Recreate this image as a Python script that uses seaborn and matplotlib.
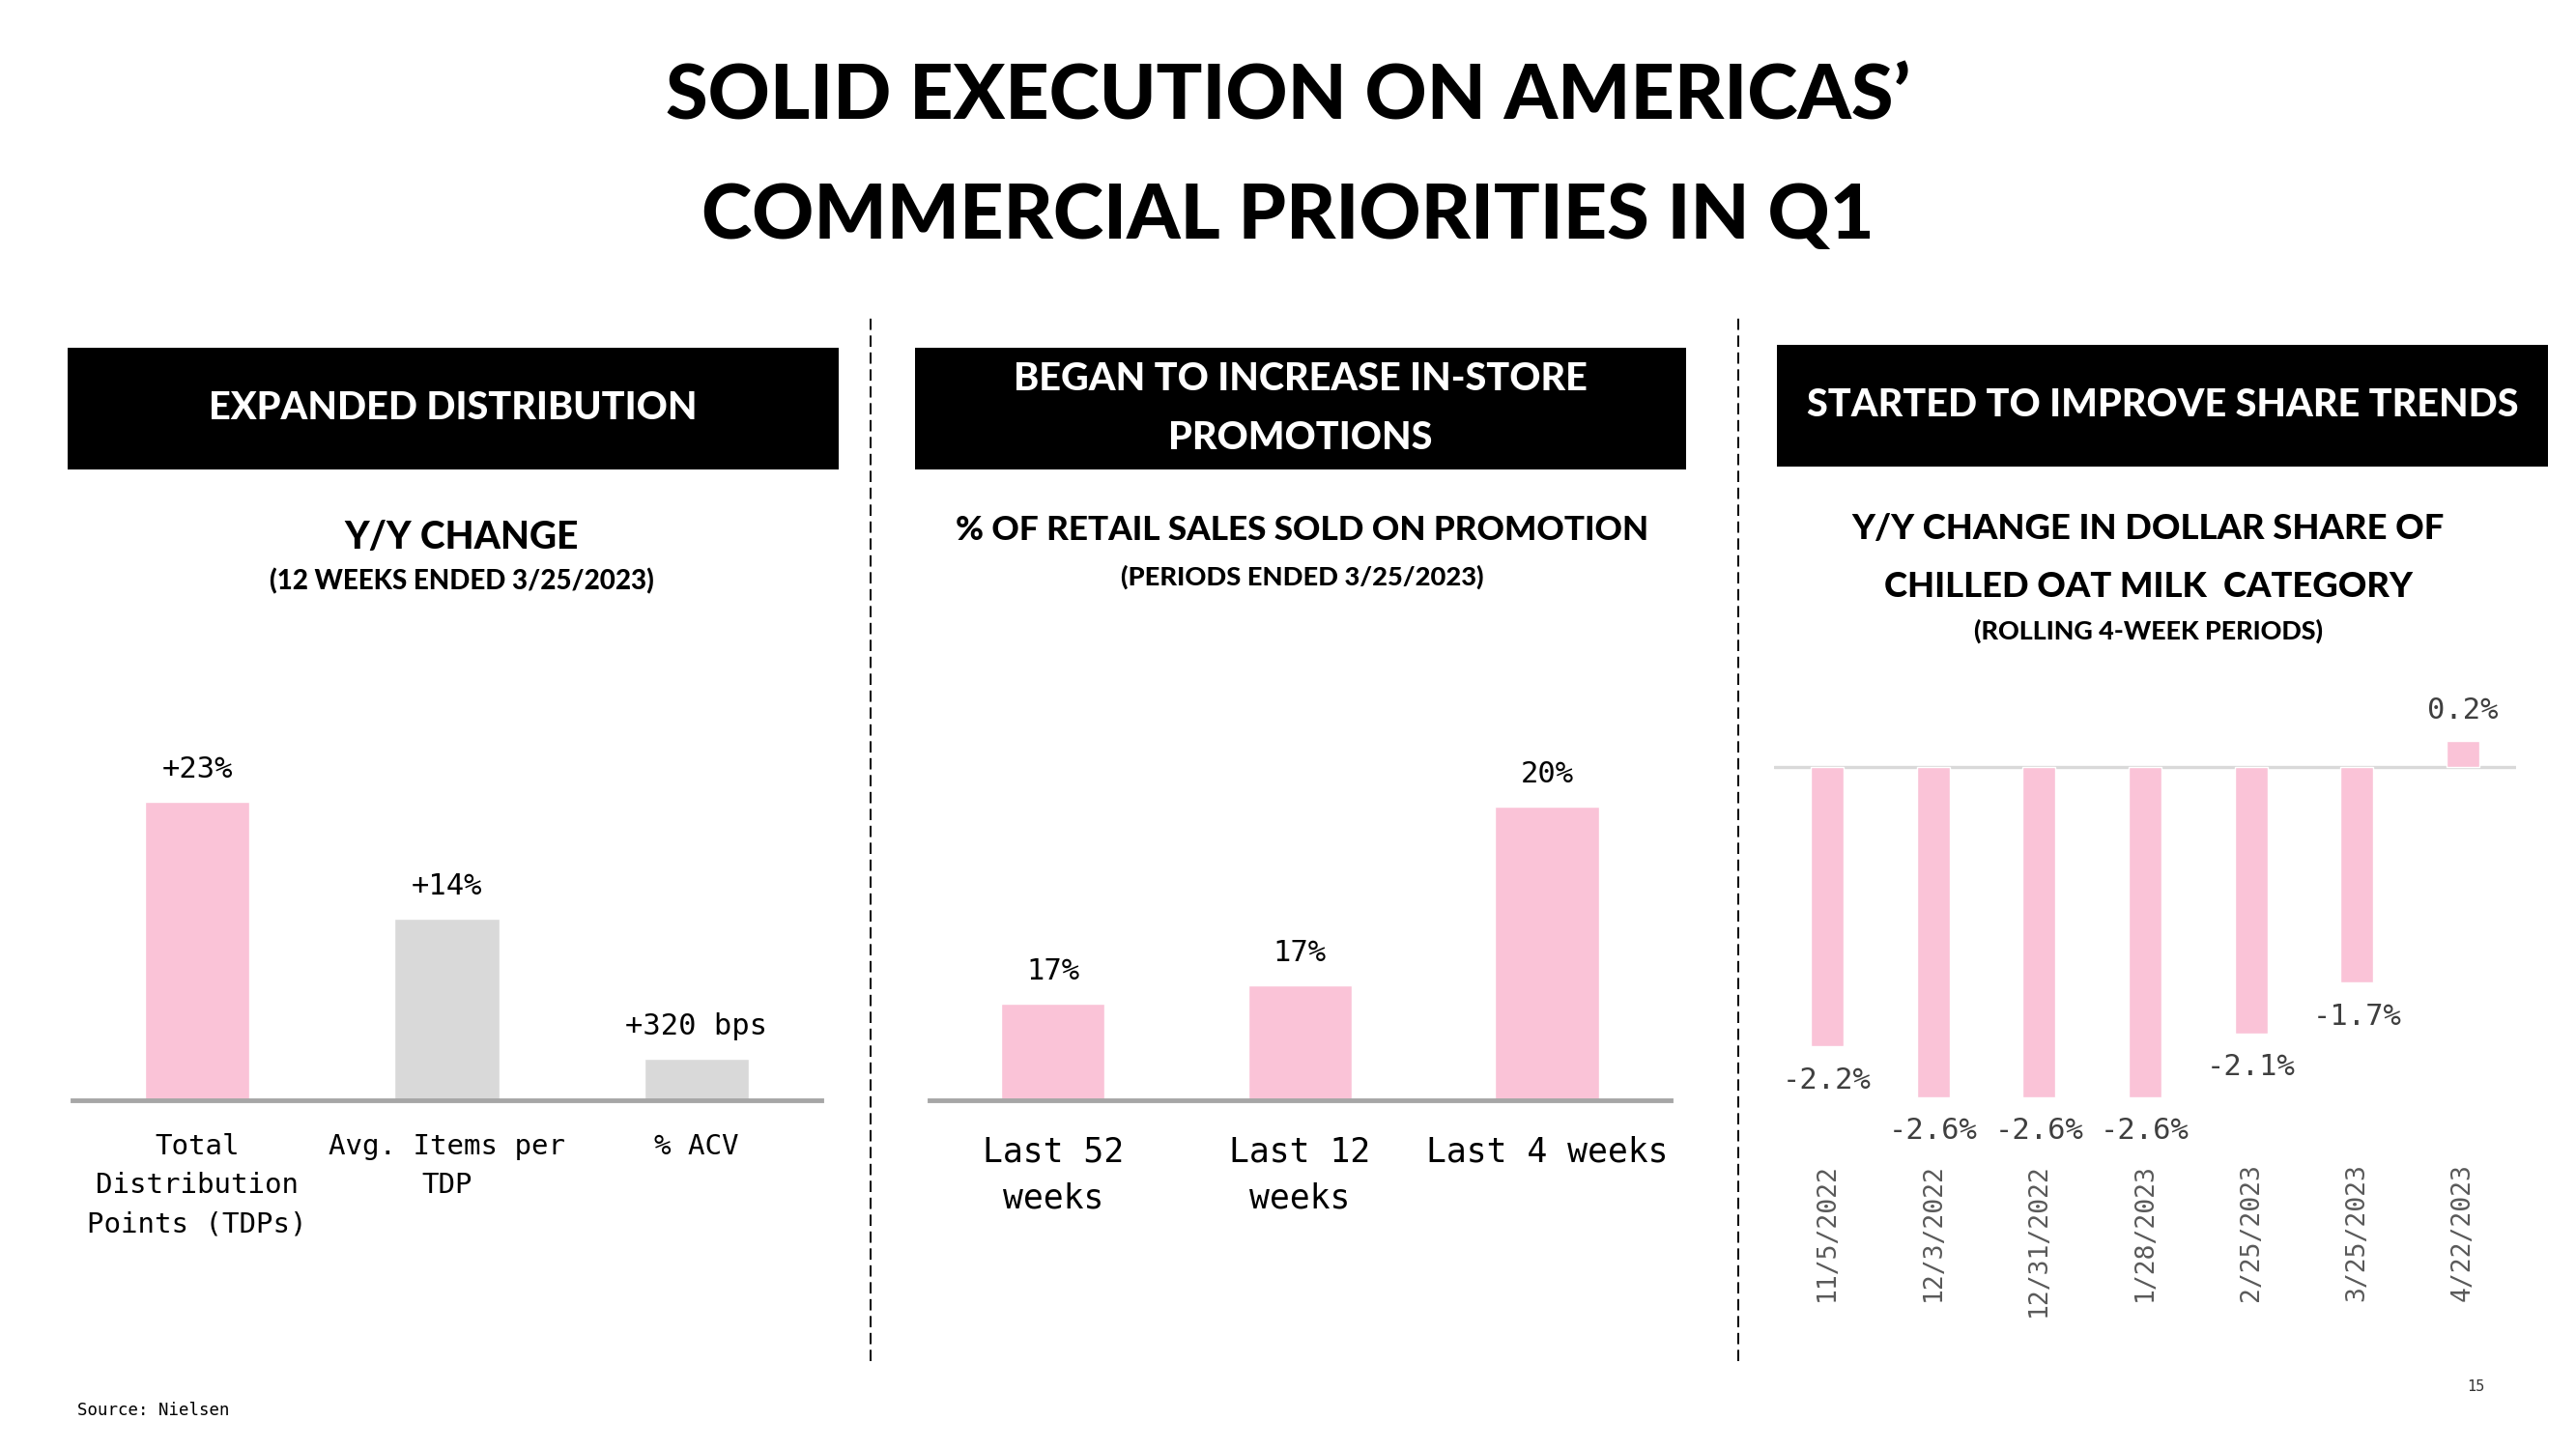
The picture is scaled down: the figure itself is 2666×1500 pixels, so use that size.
import seaborn as sns
import pandas as pd
import matplotlib.pyplot as plt
from matplotlib.patches import Rectangle
from matplotlib.lines import Line2D

# data
dist_labels = ["Total\nDistribution\nPoints (TDPs)", "Avg. Items per\nTDP", "% ACV"]
dist_values = [23, 14, 3.2]
dist_text = ["+23%", "+14%", "+320 bps"]
dist_colors = ["#FAC3D7", "#D9D9D9", "#D9D9D9"]

promo_labels = ["Last 52\nweeks", "Last 12\nweeks", "Last 4 weeks"]
promo_values = [16.8, 17.1, 20.0]
promo_text = ["17%", "17%", "20%"]

share_dates = ["11/5/2022", "12/3/2022", "12/31/2022", "1/28/2023",
               "2/25/2023", "3/25/2023", "4/22/2023"]
share_values = [-2.2, -2.6, -2.6, -2.6, -2.1, -1.7, 0.2]
share_text = ["-2.2%", "-2.6%", "-2.6%", "-2.6%", "-2.1%", "-1.7%", "0.2%"]

PINK = "#FAC3D7"
MONO = ["DejaVu Sans Mono"]
HEAVY = ["Lato", "DejaVu Sans"]

sns.set_style("white")
plt.rcParams["font.family"] = MONO
plt.rcParams["text.color"] = "black"
plt.rcParams["xtick.color"] = "black"

fig = plt.figure(figsize=(26.66, 15), dpi=100)
fig.patch.set_facecolor("white")

# title
fig.text(0.5, 0.933, "SOLID EXECUTION ON AMERICAS\u2019", ha="center", va="center",
         fontsize=57, fontweight="black", family=HEAVY)
fig.text(0.5, 0.850, "COMMERCIAL PRIORITIES IN Q1", ha="center", va="center",
         fontsize=57, fontweight="black", family=HEAVY)

# header boxes
boxes = [(0.0263, 0.676, "EXPANDED DISTRIBUTION"),
         (0.3552, 0.676, "BEGAN TO INCREASE IN-STORE\nPROMOTIONS"),
         (0.6898, 0.678, "STARTED TO IMPROVE SHARE TRENDS")]
for x0, y0, txt in boxes:
    fig.add_artist(Rectangle((x0, y0), 0.2993, 0.084, transform=fig.transFigure,
                             facecolor="black", edgecolor="none"))
    fig.text(x0 + 0.2993 / 2, y0 + 0.042, txt, ha="center", va="center", color="white",
             fontsize=28.5, fontweight="black", family=HEAVY, linespacing=1.8)

# dashed dividers
for xd in [0.338, 0.6748]:
    fig.add_artist(Line2D([xd, xd], [0.061, 0.783], transform=fig.transFigure,
                          color="black", lw=1.4, ls=(0, (6, 3))))

# subtitles
subs = [(0.1793, 0.6293, "Y/Y CHANGE", 28), (0.1793, 0.5987, "(12 WEEKS ENDED 3/25/2023)", 20),
        (0.5056, 0.634, "% OF RETAIL SALES SOLD ON PROMOTION", 25.3),
        (0.5056, 0.602, "(PERIODS ENDED 3/25/2023)", 19.6),
        (0.834, 0.6353, "Y/Y CHANGE IN DOLLAR SHARE OF", 26.2),
        (0.834, 0.5953, "CHILLED OAT MILK  CATEGORY", 26.2),
        (0.834, 0.5647, "(ROLLING 4-WEEK PERIODS)", 19.4)]
for x, y, txt, fs in subs:
    fig.text(x, y, txt, ha="center", va="center", fontsize=fs, fontweight="black", family=HEAVY)

# chart 1: expanded distribution
ax1 = fig.add_axes([0.0281, 0.2407, 0.2907, 0.2926])
df1 = pd.DataFrame({"metric": dist_labels, "value": dist_values})
sns.barplot(data=df1, x="metric", y="value", hue="metric", palette=dist_colors,
            legend=False, width=0.42, saturation=1, ax=ax1)
ax1.set_ylim(0, 32.66)
for i, (v, t) in enumerate(zip(dist_values, dist_text)):
    ax1.annotate(t, (i, v), xytext=(0, 24), textcoords="offset points",
                 ha="center", va="center", fontsize=22)

# chart 2: promotion
ax2 = fig.add_axes([0.3608, 0.2407, 0.2877, 0.2926])
df2 = pd.DataFrame({"period": promo_labels, "value": promo_values})
sns.barplot(data=df2, x="period", y="value", color=PINK, width=0.42, saturation=1, ax=ax2)
ax2.set_ylim(15.23, 22.11)
for i, (v, t) in enumerate(zip(promo_values, promo_text)):
    ax2.annotate(t, (i, v), xytext=(0, 24), textcoords="offset points",
                 ha="center", va="center", fontsize=22)

for ax, fs, pad, ls in [(ax1, 21, 24.5, 1.55), (ax2, 25, 26.5, 1.5)]:
    sns.despine(ax=ax, left=True)
    ax.spines["bottom"].set_color("#A6A6A6")
    ax.spines["bottom"].set_linewidth(3.5)
    ax.set_yticks([])
    ax.set_xlabel("")
    ax.set_ylabel("")
    ax.tick_params(axis="x", length=0, pad=pad, labelsize=fs)
    for lab in ax.get_xticklabels():
        lab.set_linespacing(ls)

# chart 3: share change
ax3 = fig.add_axes([0.6887, 0.2067, 0.288, 0.3266])
df3 = pd.DataFrame({"date": share_dates, "value": share_values})
sns.barplot(data=df3, x="date", y="value", color=PINK, width=0.31, saturation=1, ax=ax3)
ax3.axhline(0, color="#D9D9D9", lw=2.4, zorder=0)
ax3.set_ylim(-3.01, 0.711)
for i, (v, t) in enumerate(zip(share_values, share_text)):
    off = 23 if v > 0 else -25
    ax3.annotate(t, (i, v), xytext=(0, off), textcoords="offset points",
                 ha="center", va="center", fontsize=22, color="#3F3F3F")
sns.despine(ax=ax3, left=True, bottom=True)
ax3.set_yticks([])
ax3.set_xlabel("")
ax3.set_ylabel("")
ax3.tick_params(axis="x", length=0, pad=10, labelsize=19, labelcolor="#595959", rotation=90)

# footer
fig.text(0.030, 0.0267, "Source: Nielsen", ha="left", va="center", fontsize=12.5)
fig.text(0.961, 0.0427, "15", ha="center", va="center", fontsize=11, color="#333333")

fig.savefig("out.png", dpi=100, facecolor="white")
